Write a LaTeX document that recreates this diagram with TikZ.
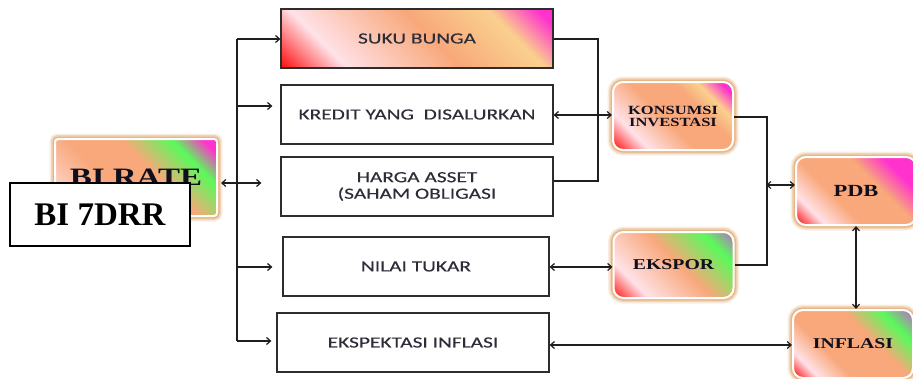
\documentclass[tikz,border=0pt]{standalone}
\usepackage{fontspec}
\usetikzlibrary{arrows.meta}
\newfontfamily\boxfont[FakeStretch=1.38,FakeBold=0.3]{Carlito}
\newfontfamily\rndfont[FakeStretch=1.32]{Liberation Serif}
\newfontfamily\drrfont{Liberation Serif}

\definecolor{cred}{RGB}{255,25,25}
\definecolor{cpink}{RGB}{255,226,232}
\definecolor{csalmon}{RGB}{248,168,122}
\definecolor{cpeach}{RGB}{250,208,142}
\definecolor{cmag}{RGB}{255,50,205}
\definecolor{cgreen}{RGB}{90,250,90}
\definecolor{cpurp}{RGB}{185,110,195}
\definecolor{cglow}{RGB}{222,160,95}
\definecolor{ctext}{RGB}{45,45,58}
\definecolor{cborder}{RGB}{45,45,45}
\definecolor{cline}{RGB}{30,30,30}
\definecolor{cdark}{RGB}{15,15,30}

\pgfdeclarehorizontalshading{shsuku}{100bp}{color(0bp)=(cred); color(29bp)=(cred); color(37bp)=(cpink); color(52bp)=(csalmon); color(63bp)=(cpeach); color(69.5bp)=(cmag); color(100bp)=(cmag)}
\pgfdeclarehorizontalshading{shkons}{100bp}{color(0bp)=(cred); color(23bp)=(cred); color(33bp)=(cpink); color(47bp)=(csalmon); color(60bp)=(csalmon); color(67bp)=(cpeach); color(74bp)=(cmag); color(100bp)=(cmag)}
\pgfdeclarehorizontalshading{shpdb}{100bp}{color(0bp)=(cred); color(23bp)=(cred); color(31bp)=(cpink); color(42bp)=(csalmon); color(58bp)=(csalmon); color(68bp)=(cmag); color(100bp)=(cmag)}
\pgfdeclarehorizontalshading{shekspor}{100bp}{color(0bp)=(cred); color(23bp)=(cred); color(33bp)=(cpink); color(52bp)=(csalmon); color(68bp)=(cgreen); color(77bp)=(cpurp); color(100bp)=(cpurp)}
\pgfdeclarehorizontalshading{shinfl}{100bp}{color(0bp)=(cred); color(23bp)=(cred); color(30bp)=(cpink); color(40bp)=(csalmon); color(57bp)=(csalmon); color(68bp)=(cgreen); color(77bp)=(cpurp); color(100bp)=(cpurp)}
\pgfdeclarehorizontalshading{shbirate}{100bp}{color(0bp)=(cpink); color(25bp)=(cpink); color(43bp)=(csalmon); color(55bp)=(csalmon); color(66bp)=(cgreen); color(73bp)=(cmag); color(100bp)=(cmag)}

\tikzset{
  rectbox/.style={draw=cborder, line width=1.2pt, fill=white, minimum width=272pt,
    minimum height=59pt, inner sep=0pt, text=ctext,
    font=\boxfont\fontsize{15.5}{16.5}\selectfont},
  gradfill/.style 2 args={path picture={\shade[shading=#1, shading angle=45]
    ([shift={(-#2pt,-#2pt)}]path picture bounding box.center) rectangle
    ([shift={(#2pt,#2pt)}]path picture bounding box.center);}},
  glow/.style={preaction={draw=cglow, line width=11pt, opacity=0.18},
    preaction={draw=cglow, line width=8pt, opacity=0.32},
    preaction={draw=cglow, line width=5pt, opacity=0.55},
    draw=white, line width=2pt},
  rndbox/.style={glow, rounded corners=10pt, minimum width=120pt, minimum height=68pt,
    inner sep=0pt, text=cdark, align=center},
  conn/.style={draw=cline, line width=1.2pt},
  >={Straight Barb[length=4pt,width=7pt]},
}

\begin{document}
\begin{tikzpicture}[x=1pt,y=-1pt]
\useasboundingbox (0,0) rectangle (913,378);
\clip (0,0) rectangle (913,378);
\fill[white] (0,0) rectangle (913,378);

% left boxes
\node[glow, rounded corners=3pt, minimum width=162pt, minimum height=77pt, inner sep=0pt,
  gradfill={shbirate}{81}, text=cdark,
  font=\rndfont\bfseries\fontsize{25}{25}\selectfont] (birate) at (136,177.5) {BI RATE};
\node[draw=black, line width=2.5pt, fill=white, minimum width=180pt, minimum height=63pt,
  inner sep=0pt, font=\drrfont\bfseries\fontsize{33}{33}\selectfont] (drr) at (100,214.5) {BI 7DRR};

% middle column
\node[rectbox, gradfill={shsuku}{136}] (suku) at (417,38.5) {SUKU BUNGA};
\node[rectbox] (kredit) at (417,114.5) {KREDIT YANG\ \ DISALURKAN};
\node[rectbox, align=center] (harga) at (417,186.5) {HARGA ASSET\\(SAHAM OBLIGASI};
\node[rectbox, minimum width=266pt] (nilai) at (416,266.5) {NILAI TUKAR};
\node[rectbox] (ekspek) at (413,342.5) {EKSPEKTASI INFLASI};

% right column
\node[rndbox, gradfill={shkons}{60}, font=\rndfont\bfseries\fontsize{12.5}{12}\selectfont]
  (kons) at (673,116) {KONSUMSI\\INVESTASI};
\node[rndbox, gradfill={shekspor}{60}, minimum height=66pt,
  font=\rndfont\bfseries\fontsize{15}{15}\selectfont] (ekspor) at (673.5,265) {EKSPOR};
\node[rndbox, gradfill={shpdb}{60}, font=\rndfont\bfseries\fontsize{17}{17}\selectfont]
  (pdb) at (856,191) {PDB};
\node[rndbox, gradfill={shinfl}{60}, font=\rndfont\bfseries\fontsize{15}{15}\selectfont]
  (inflasi) at (853,344) {INFLASI};

% trunk
\coordinate (t1) at (237,39);
\coordinate (t2) at (237,106);
\coordinate (t3) at (237,183);
\coordinate (t5) at (237,267);
\coordinate (t6) at (237,341);
\draw[conn] (t1) -- (t6);
\draw[conn,->] (t1) -- (suku.west |- t1);
\draw[conn,->,shorten >=8pt] (t2) -- (kredit.west |- t2);
\draw[conn,<->,shorten <=3pt,shorten >=19pt] (birate.east |- t3) -- (harga.west |- t3);
\draw[conn,->,shorten >=10pt] (t5) -- (nilai.west |- t5);
\draw[conn,->,shorten >=5pt] (t6) -- (ekspek.west |- t6);

% bracket suku-harga
\coordinate (s1) at (598,39);
\coordinate (s2) at (598,181);
\draw[conn] (suku.east |- s1) -- (s1) -- (s2) -- (harga.east |- s2);

\coordinate (k1) at (0,115);
\draw[conn,<->] (kredit.east |- k1) -- (kons.west |- k1);

\coordinate (j1) at (767,117);
\coordinate (j2) at (767,265);
\draw[conn] (kons.east |- j1) -- (j1) -- (j2) -- (ekspor.east |- j2);
\coordinate (p1) at (766,185);
\draw[conn,<->] (p1) -- (pdb.west |- p1);

\coordinate (n1) at (0,267);
\draw[conn,<->] (nilai.east |- n1) -- (ekspor.west |- n1);
\coordinate (e1) at (0,345);
\draw[conn,<->] (ekspek.east |- e1) -- (inflasi.west |- e1);
\draw[conn,<->] (pdb.south) -- (pdb.south |- inflasi.north);
\end{tikzpicture}
\end{document}
